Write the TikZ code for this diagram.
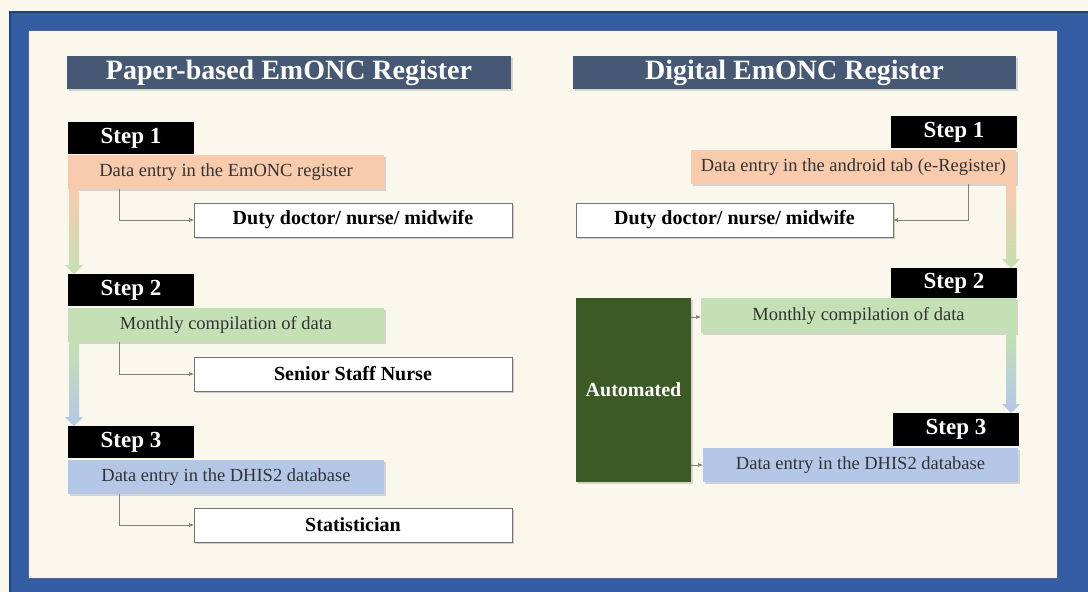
\documentclass[tikz,border=0pt]{standalone}
\usepackage{fontspec}
\setmainfont{LiberationSerif}[Extension=.ttf, UprightFont=*-Regular, BoldFont=*-Bold]
\usepackage{tikz}
\usetikzlibrary{arrows.meta,calc,shadows}

\definecolor{paper}{RGB}{250,247,236}
\definecolor{frameblue}{RGB}{52,92,162}
\definecolor{framedark}{RGB}{34,64,124}
\definecolor{headgray}{RGB}{70,88,116}
\definecolor{entryorange}{RGB}{248,203,173}
\definecolor{entrygreen}{RGB}{197,224,180}
\definecolor{entryblue}{RGB}{180,199,231}
\definecolor{autogreen}{RGB}{60,90,38}

% thick shaded arrow running down from #1 to the top of #2
\newcommand{\fatarrow}[4]{%
  \shade[top color=#3, bottom color=#4] let \p1=(#1), \p2=(#2) in
    (\x1-5pt,\y1) -- (\x1+5pt,\y1) -- (\x1+5pt,\y2+9pt) -- (\x1+9pt,\y2+9pt)
    -- (\x1,\y2) -- (\x1-9pt,\y2+9pt) -- (\x1-5pt,\y2+9pt) -- cycle;}

\begin{document}
\begin{tikzpicture}[x=1pt, y=-1pt,
  every node/.style={inner sep=0pt, outer sep=0pt, anchor=north west},
  head/.style={fill=headgray, text=white, font=\bfseries\fontsize{28}{30}\selectfont,
    minimum height=33, drop shadow={shadow xshift=2pt, shadow yshift=-2pt, opacity=0.3}},
  steplbl/.style={fill=black, text=white, font=\bfseries\fontsize{23}{26}\selectfont,
    minimum width=126, minimum height=32},
  task/.style={text=black!80, font=\fontsize{18.5}{21}\selectfont, minimum height=34,
    drop shadow={shadow xshift=2pt, shadow yshift=-2pt, opacity=0.3}},
  role/.style={draw=black!55, fill=white, font=\bfseries\fontsize{20}{22}\selectfont,
    minimum width=318, minimum height=34,
    drop shadow={shadow xshift=2pt, shadow yshift=-2pt, opacity=0.35}},
  link/.style={draw=black!50, line width=0.6pt, -{Latex[length=5pt,width=4pt]}}]

\useasboundingbox (0,0) rectangle (1088,592);
\fill[paper] (0,0) rectangle (1088,592);

% blue frame
\fill[frameblue, draw=framedark, line width=1.5pt] (10,12) rectangle (1092,600);
\fill[paper, draw=framedark!80, line width=1pt] (28,30) rectangle (1057,578);

% headings
\node[head, minimum width=444] (hpaper) at (67,56) {Paper-based EmONC Register};
\node[head, minimum width=443] (hdigit) at (573,56) {Digital EmONC Register};

% paper-based register
\node[steplbl] (stp1) at (68,122) {Step 1};
\node[task, fill=entryorange, minimum width=316] (ent1) at (68,155) {Data entry in the EmONC register};
\node[role] (duty1) at (194,203) {Duty doctor/ nurse/ midwife};
\node[steplbl] (stp2) at (68,274) {Step 2};
\node[task, fill=entrygreen, minimum width=316] (mon1) at (68,308) {Monthly compilation of data};
\node[role] (nurse1) at (194,357) {Senior Staff Nurse};
\node[steplbl] (stp3) at (68,426) {Step 3};
\node[task, fill=entryblue, minimum width=316] (db1) at (68,460) {Data entry in the DHIS2 database};
\node[role] (stat1) at (194,508) {Statistician};

\draw[link] ($(ent1.south west)+(51,0)$) |- (duty1.west);
\draw[link] ($(mon1.south west)+(51,0)$) |- (nurse1.west);
\draw[link] ($(db1.south west)+(51,0)$) |- (stat1.west);

\fatarrow{$(ent1.south west)+(6,0)$}{stp2.north west}{entryorange}{entrygreen}
\fatarrow{$(mon1.south west)+(6,0)$}{stp3.north west}{entrygreen}{entryblue}

% digital register
\node[steplbl] (rstp1) at (891,116) {Step 1};
\node[task, fill=entryorange, minimum width=325] (rent) at (691,150) {Data entry in the android tab (e-Register)};
\node[role, minimum width=317] (rduty) at (576,203) {Duty doctor/ nurse/ midwife};
\node[steplbl, minimum height=30] (rstp2) at (891,268) {Step 2};
\node[task, fill=entrygreen, minimum width=315, minimum height=35] (rmon) at (701,298) {Monthly compilation of data};
\node[steplbl, minimum height=33] (rstp3) at (893,413) {Step 3};
\node[task, fill=entryblue, minimum width=315] (rdb) at (703,448) {Data entry in the DHIS2 database};
\node[fill=autogreen, text=white, font=\bfseries\fontsize{20}{22}\selectfont,
  minimum width=115, minimum height=184,
  drop shadow={shadow xshift=2pt, shadow yshift=-2pt, opacity=0.3}] (auto) at (576,298) {Automated};

\draw[link] ($(rent.south east)+(-48,0)$) |- (rduty.east);
\draw[link] (auto.east |- 0,317) -- (rmon.west |- 0,317);
\draw[link] (auto.east |- rdb.west) -- (rdb.west);

\fatarrow{$(rent.south east)+(-5,0)$}{rstp2.north east}{entryorange}{entrygreen}
\fatarrow{$(rmon.south east)+(-5,0)$}{rstp3.north east}{entrygreen}{entryblue}
\end{tikzpicture}
\end{document}
